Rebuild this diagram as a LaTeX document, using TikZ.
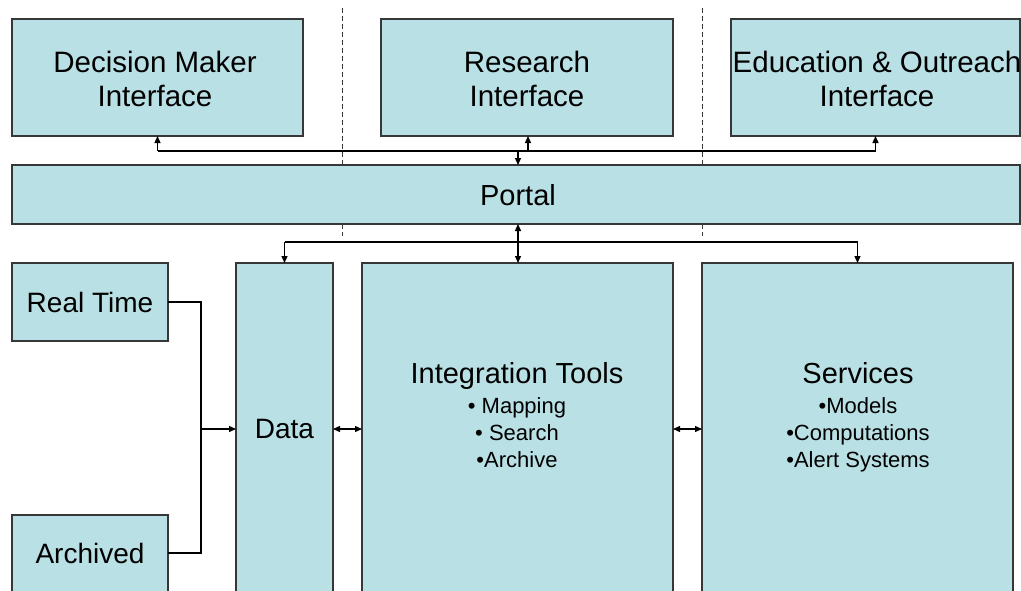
\documentclass[tikz,border=0pt]{standalone}
\usepackage{fontspec}
\setmainfont{Liberation Sans}
\usetikzlibrary{arrows.meta}
\definecolor{boxfill}{RGB}{185,224,228}
\definecolor{edge}{RGB}{55,55,55}
\tikzset{
  box/.style={draw=edge, line width=1.3pt, fill=boxfill, inner sep=0pt, outer sep=0pt},
  big/.style={font=\fontsize{28}{34}\selectfont, align=center, inner sep=0pt},
  head/.style={font=\fontsize{29.5}{34}\selectfont, align=center, inner sep=0pt, anchor=base},
  title/.style={font=\fontsize{29}{34}\selectfont, align=center, inner sep=0pt, anchor=base},
  small/.style={font=\fontsize{22}{27}\selectfont, align=center, inner sep=0pt, anchor=base},
  conn/.style={line width=1.3pt, draw=black},
  arr/.style={conn, -{Triangle[length=7pt,width=6pt]}},
  darr/.style={conn, {Triangle[length=7pt,width=6pt]}-{Triangle[length=7pt,width=6pt]}},
  divider/.style={line width=1pt, draw=edge, dash pattern=on 5pt off 3pt}
}
\begin{document}
\begin{tikzpicture}[x=1pt,y=-1pt]
\useasboundingbox (0,0) rectangle (1021,590);
\begin{scope}
\clip (0,0) rectangle (1021,590);
% dividers
\draw[divider] (342,8) -- (342,236);
\draw[divider] (702,8) -- (702,236);
% top boxes
\node[box, minimum width=291pt, minimum height=117pt] (dm) at (157.5,77.5) {};
\node[head] at (155,106) {Decision Maker\\Interface};
\node[box, minimum width=292pt, minimum height=117pt] (rs) at (527,77.5) {};
\node[head] at (527,106) {Research\\Interface};
\node[box, minimum width=289pt, minimum height=117pt] (ed) at (875.5,77.5) {};
\node[head] at (877,106) {Education \& Outreach\\Interface};
% portal
\node[box, minimum width=1008pt, minimum height=59pt] (portal) at (516,194.5) {};
\node[title] at (518,205) {Portal};
% bottom boxes
\node[box, minimum width=156pt, minimum height=78pt] (rt) at (90,302) {};
\node[big] at (90,302) {Real Time};
\node[box, minimum width=156pt, minimum height=100pt] (ar) at (90,565) {};
\node[big] (arT) at (90,553) {Archived};
\node[box, minimum width=97pt, minimum height=350pt] (data) at (284.5,438) {};
\node[big] (dataT) at (284.5,429) {Data};
\node[box, minimum width=311pt, minimum height=350pt] (it) at (517.5,438) {};
\node[title] at (517,383) {Integration Tools};
\node[small] at (517,467) {\textbullet\ Mapping\\\textbullet\ Search\\\textbullet Archive};
\node[box, minimum width=311pt, minimum height=350pt] (sv) at (857.5,438) {};
\node[title] at (858,383) {Services};
\node[small] at (858,467) {\textbullet Models\\\textbullet Computations\\\textbullet Alert Systems};
\end{scope}
% top bus
\coordinate (tb) at (518,151);
\draw[conn] (tb -| dm.south) -- (tb -| ed.south);
\draw[arr] (tb -| dm.south) -- (dm.south);
\draw[arr] (528,151) -- (528,136);
\draw[arr] (tb -| ed.south) -- (ed.south);
\draw[arr] (tb) -- (tb |- portal.north);
% bottom bus
\coordinate (bb) at (518,242);
\draw[conn] (bb -| data.north) -- (bb -| sv.north);
\draw[darr] (bb |- portal.south) -- (bb |- it.north);
\draw[arr] (bb -| data.north) -- (data.north);
\draw[arr] (bb -| sv.north) -- (sv.north);
% data sources
\coordinate (j) at (201,429);
\draw[conn] (rt.east) -| (j);
\draw[conn] (ar.east |- arT) -| (j);
\draw[arr] (j) -- (data.west |- j);
% side links
\draw[darr] (data.east |- j) -- (it.west |- j);
\draw[darr] (it.east |- j) -- (sv.west |- j);
\end{tikzpicture}
\end{document}
